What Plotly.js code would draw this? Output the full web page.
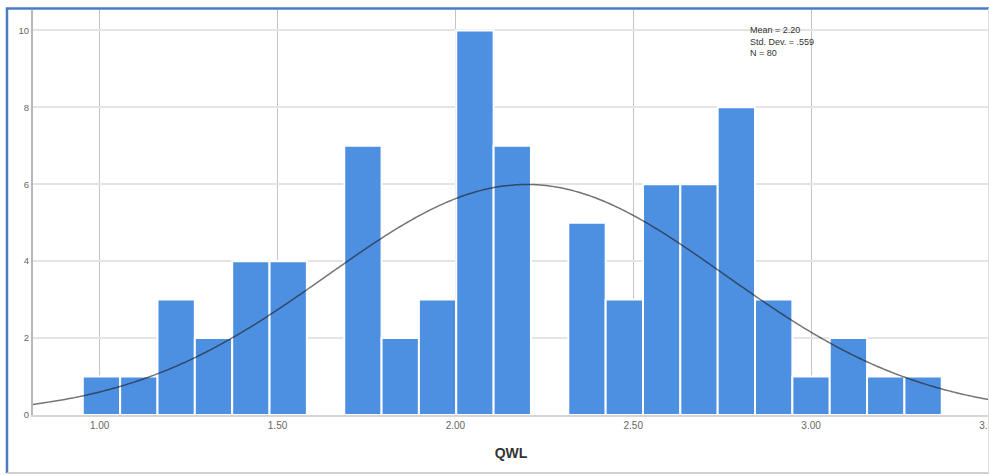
<!DOCTYPE html>
<html>
<head>
<meta charset="utf-8">
<script src="https://cdn.plot.ly/plotly-3.0.1.min.js"></script>
<style>
  html, body { margin: 0; padding: 0; background: #ffffff; }
  #chart { width: 989px; height: 475px; }
</style>
</head>
<body>
<div id="chart"></div>
<script>
// ---- data ----
const binCenters = [1.005, 1.110, 1.215, 1.320, 1.425, 1.530, 1.635, 1.740, 1.845, 1.950, 2.055, 2.160,
                    2.265, 2.370, 2.475, 2.580, 2.685, 2.790, 2.895, 3.000, 3.105, 3.210, 3.315];
const counts     = [1, 1, 3, 2, 4, 4, 0, 7, 2, 3, 10, 7,
                    0, 5, 3, 6, 6, 8, 3, 1, 2, 1, 1];
const binWidth = 0.105;
const statMean = 2.20;
const statSD = 0.559;
const statN = 80;
const xTickVals = [1.0, 1.5, 2.0, 2.5, 3.0, 3.5];
const xTickText = ["1.00", "1.50", "2.00", "2.50", "3.00", "3.50"];
const yTickVals = [0, 2, 4, 6, 8, 10];
const statLines = ["Mean = 2.20", "Std. Dev. = .559", "N = 80"];
const xTitle = "QWL";

// ---- fitted normal curve (from the reported mean / SD / N) ----
const xMin = 0.8125, xMax = 3.5003;
const curveX = [], curveY = [];
const steps = 300;
for (let i = 0; i <= steps; i++) {
  const x = xMin + (xMax - xMin) * i / steps;
  const z = (x - statMean) / statSD;
  curveX.push(x);
  curveY.push(statN * binWidth / (statSD * Math.sqrt(2 * Math.PI)) * Math.exp(-0.5 * z * z));
}

const traces = [
  {
    type: 'bar',
    x: binCenters,
    y: counts,
    width: binWidth,
    marker: { color: '#4d8fe0', line: { color: '#ffffff', width: 2 } },
    hoverinfo: 'x+y'
  },
  {
    type: 'scatter',
    mode: 'lines',
    x: curveX,
    y: curveY,
    line: { color: 'rgba(30,30,30,0.62)', width: 1.5, shape: 'spline' },
    hoverinfo: 'skip'
  }
];

const annotations = [{
  text: statLines.join('<br>'),
  xref: 'x', yref: 'y',
  x: 2.8265, y: 10.16,
  xanchor: 'left', yanchor: 'top',
  align: 'left',
  showarrow: false,
  borderpad: 0,
  font: { family: 'Liberation Sans, Arial, sans-serif', size: 9, color: '#333333' }
}];

const layout = {
  width: 989,
  height: 475,
  margin: { l: 33, r: 0, t: 10, b: 60, pad: 0 },
  paper_bgcolor: '#ffffff',
  plot_bgcolor: '#ffffff',
  showlegend: false,
  bargap: 0,
  font: { family: 'Liberation Sans, Arial, sans-serif', color: '#555555' },
  xaxis: {
    range: [xMin, xMax],
    tickvals: xTickVals,
    ticktext: xTickText,
    ticklabeloverflow: 'allow',
    tickfont: { size: 10, color: '#666666' },
    showgrid: true,
    gridcolor: '#c4c4c4',
    gridwidth: 1,
    zeroline: false,
    showline: true,
    linecolor: '#d6d6d6',
    linewidth: 2,
    ticks: '',
    ticklen: 2,
    title: { text: xTitle, font: { size: 14, color: '#333333', family: 'Liberation Sans, Arial, sans-serif', weight: 'bold' }, standoff: 18 },
    fixedrange: true
  },
  yaxis: {
    range: [0, 10.53],
    tickvals: yTickVals,
    tickfont: { size: 9.5, color: '#666666' },
    showgrid: true,
    gridcolor: '#e4e4e4',
    gridwidth: 2,
    zeroline: false,
    showline: true,
    linecolor: '#b8b8b8',
    linewidth: 2,
    ticks: '',
    fixedrange: true
  },
  annotations: annotations,
  shapes: [
    { type: 'line', xref: 'paper', yref: 'paper', x0: -0.0272, x1: -0.0272, y0: -0.1432, y1: 1.0040,
      line: { color: '#4a7cc4', width: 2.5 } },
    { type: 'line', xref: 'paper', yref: 'paper', x0: -0.0285, x1: 1.01, y0: 1.0040, y1: 1.0040,
      line: { color: '#4a7cc4', width: 2.5 } },
    { type: 'line', xref: 'paper', yref: 'paper', x0: -0.0272, x1: 1.01, y0: -0.1432, y1: -0.1432,
      line: { color: '#c0c0c0', width: 1.5 } },
    { type: 'line', xref: 'paper', yref: 'paper', x0: 0.9995, x1: 0.9995, y0: -0.1432, y1: 1.0040,
      line: { color: '#e0e0e0', width: 1 } }
  ]
};

Plotly.newPlot('chart', traces, layout, { displayModeBar: false, staticPlot: true });
</script>
</body>
</html>
